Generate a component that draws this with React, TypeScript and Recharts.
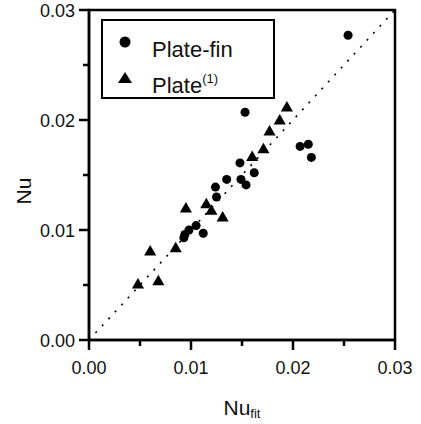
import {
  Legend,
  ReferenceArea,
  ReferenceLine,
  Scatter,
  ScatterChart,
  XAxis,
  YAxis,
  ZAxis,
} from 'recharts';

const FONT = '"Liberation Sans", Arial, sans-serif';

const AXIS_TICKS = [0, 0.005, 0.01, 0.015, 0.02, 0.025, 0.03];
const MAJOR_TICKS = [0, 0.01, 0.02, 0.03];

// Plate-fin (circles)
const plateFinX = [0.0254, 0.0153, 0.0207, 0.0215, 0.0218, 0.0148, 0.0162, 0.0135, 0.0149, 0.0154, 0.0124, 0.0125, 0.0093, 0.0094, 0.0098, 0.0105, 0.0112];
const plateFinY = [0.0277, 0.0207, 0.0176, 0.0178, 0.0166, 0.0161, 0.0152, 0.0146, 0.0146, 0.0141, 0.0139, 0.013, 0.0093, 0.0096, 0.01, 0.0104, 0.0097];

// Plate(1) (triangles)
const plateX = [0.0194, 0.0187, 0.0177, 0.0171, 0.016, 0.0115, 0.0095, 0.012, 0.0131, 0.0085, 0.006, 0.0048, 0.0068];
const plateY = [0.0211, 0.0199, 0.0189, 0.0173, 0.0166, 0.0123, 0.0119, 0.0117, 0.0111, 0.0083, 0.008, 0.005, 0.0053];

const plateFin = plateFinX.map((x, i) => ({ x, y: plateFinY[i] }));
const plate = plateX.map((x, i) => ({ x, y: plateY[i] }));

const isMajor = (v: number) => MAJOR_TICKS.some((m) => Math.abs(m - v) < 1e-9);

function XTick(props: any) {
  const { x, y, payload } = props;
  const major = isMajor(payload.value);
  return (
    <g>
      <line x1={x} x2={x} y1={y} y2={y + (major ? 10 : 6)} stroke="#000" strokeWidth={2.5} />
      {major && (
        <text x={x} y={y + 34} textAnchor="middle" fontSize={18} fontFamily={FONT} fill="#111">
          {payload.value.toFixed(2)}
        </text>
      )}
    </g>
  );
}

function YTick(props: any) {
  const { x, y, payload } = props;
  const major = isMajor(payload.value);
  return (
    <g>
      <line x1={x} x2={x - (major ? 10 : 6)} y1={y} y2={y} stroke="#000" strokeWidth={2.5} />
      {major && (
        <text x={x - 14} y={y + 7} textAnchor="end" fontSize={18} fontFamily={FONT} fill="#111">
          {payload.value.toFixed(2)}
        </text>
      )}
    </g>
  );
}

function LegendBox() {
  return (
    <svg width={174} height={80} style={{ display: 'block' }}>
      <rect x={1} y={1} width={172} height={78} fill="#fff" stroke="#000" strokeWidth={2} />
      <circle cx={24} cy={23} r={5.5} fill="#000" />
      <text x={51} y={38} fontFamily={FONT} fontSize={22} fill="#111">
        Plate-fin
      </text>
      <polygon points="24,53 31,64 17,64" fill="#000" />
      <text x={51} y={74} fontFamily={FONT} fontSize={22} fill="#111">
        Plate
        <tspan fontSize={13} dy={-10}>(1)</tspan>
      </text>
    </svg>
  );
}

export default function App() {
  return (
    <div style={{ position: 'absolute', left: 0, top: 0, background: '#fff' }}>
      <ScatterChart width={421} height={424} margin={{ top: 10, right: 26, bottom: 24, left: 0 }}>
        <XAxis
          type="number"
          dataKey="x"
          domain={[0, 0.03]}
          ticks={AXIS_TICKS}
          interval={0}
          height={60}
          tickSize={0}
          tickMargin={0}
          tickLine={false}
          axisLine={{ stroke: '#000', strokeWidth: 2.5 }}
          tick={<XTick />}
          label={({ viewBox }: any) => (
            <text
              x={viewBox.x + viewBox.width / 2}
              y={415}
              textAnchor="middle"
              fontFamily={FONT}
              fill="#111"
              fontSize={21}
            >
              Nu
              <tspan fontSize={13} dy={3}>fit</tspan>
            </text>
          )}
        />
        <YAxis
          type="number"
          dataKey="y"
          domain={[0, 0.03]}
          ticks={AXIS_TICKS}
          interval={0}
          width={89}
          tickSize={0}
          tickMargin={0}
          tickLine={false}
          axisLine={{ stroke: '#000', strokeWidth: 2.5 }}
          tick={<YTick />}
          label={() => (
            <text
              x={23}
              y={191}
              transform="rotate(-90, 23, 191)"
              textAnchor="middle"
              dominantBaseline="central"
              fontFamily={FONT}
              fill="#111"
              fontSize={21}
            >
              Nu
            </text>
          )}
        />
        <ZAxis zAxisId="circle" range={[113, 113]} />
        <ZAxis zAxisId="tri" range={[95, 95]} />
        <ReferenceArea x1={0} x2={0.03} y1={0} y2={0.03} fill="none" stroke="#000" strokeWidth={2.5} ifOverflow="visible" />
        <ReferenceLine
          segment={[
            { x: 0, y: 0 },
            { x: 0.03, y: 0.03 },
          ]}
          stroke="#000"
          strokeWidth={1.6}
          strokeDasharray="2 7.5"
        />
        <Scatter name="Plate-fin" data={plateFin} zAxisId="circle" shape="circle" fill="#000" isAnimationActive={false} />
        <Scatter name="Plate(1)" data={plate} zAxisId="tri" shape="triangle" fill="#000" isAnimationActive={false} />
        <Legend
          layout="vertical"
          align="center"
          verticalAlign="middle"
          wrapperStyle={{ left: 101, top: 19, width: 174, height: 80 }}
          content={() => <LegendBox />}
        />
      </ScatterChart>
    </div>
  );
}
